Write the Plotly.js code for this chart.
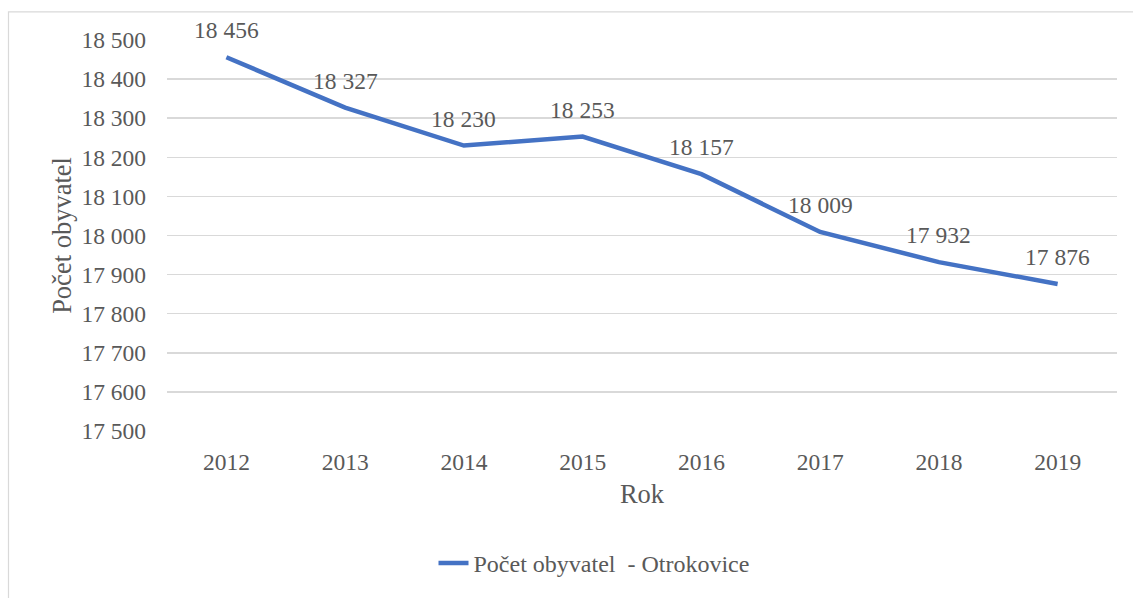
<!DOCTYPE html>
<html>
<head>
<meta charset="utf-8">
<script src="https://cdn.plot.ly/plotly-3.0.1.min.js"></script>
<style>html,body{margin:0;padding:0;background:#fff;}#chart{width:1133px;height:598px;}</style>
</head>
<body>
<div id="chart"></div>
<script>
const years = ['2012','2013','2014','2015','2016','2017','2018','2019'];
const population = [18456, 18327, 18230, 18253, 18157, 18009, 17932, 17876];
const seriesName = 'Počet obyvatel  - Otrokovice';
const xTitle = 'Rok';
const yTitle = 'Počet obyvatel';

const fmt = v => String(v).replace(/\B(?=(\d{3})+(?!\d))/g, ' ');
const fam = '"Liberation Serif", "Times New Roman", serif';
const font = {family: fam, size: 23.5, color: '#595959'};
const titleFont = {family: fam, size: 26.5, color: '#595959'};

const L = 167, R = 1117, T = 40, B = 436;
const W = R - L, H = B - T;
const px = x => (x - L) / W;
const py = y => (B - y) / H;

const trace = {
  x: years, y: population, type: 'scatter', mode: 'lines', name: seriesName,
  line: {color: '#4472C4', width: 4.5}
};

const annotations = years.map((yr, i) => ({
  x: i, y: population[i], xref: 'x', yref: 'y', text: fmt(population[i]),
  showarrow: false, yshift: 27, font: font
}));

const layout = {
  width: 1133, height: 598,
  margin: {l: L, r: 1133 - R, t: T, b: 598 - B},
  paper_bgcolor: '#fff', plot_bgcolor: '#fff',
  separators: ', ',
  font: font,
  showlegend: true,
  legend: {orientation: 'h', x: px(594), xanchor: 'center', y: py(570), yanchor: 'middle', font: {family: fam, size: 24, color: '#595959'}},
  xaxis: {
    type: 'category', range: [-0.5, 7.5], showgrid: false, zeroline: false,
    showline: false, ticks: '', tickfont: font, ticklabelstandoff: 14,
    title: {text: xTitle, font: titleFont, standoff: 10}
  },
  yaxis: {
    range: [17500, 18500], dtick: 100, tickformat: ',d', showgrid: true,
    gridcolor: '#d9d9d9', gridwidth: 1.5, zeroline: false, showline: false, ticks: '',
    tickfont: font, ticklabelstandoff: 20,
    title: {text: yTitle, font: titleFont, standoff: 2}
  },
  annotations: annotations,
  shapes: [{
    type: 'rect', xref: 'paper', yref: 'paper',
    x0: px(8.5), x1: px(1145), y0: py(610), y1: py(11.5),
    line: {color: '#d9d9d9', width: 1.2}, fillcolor: 'rgba(0,0,0,0)', layer: 'below'
  }]
};

Plotly.newPlot('chart', [trace], layout, {displayModeBar: false, staticPlot: true});
</script>
</body>
</html>
